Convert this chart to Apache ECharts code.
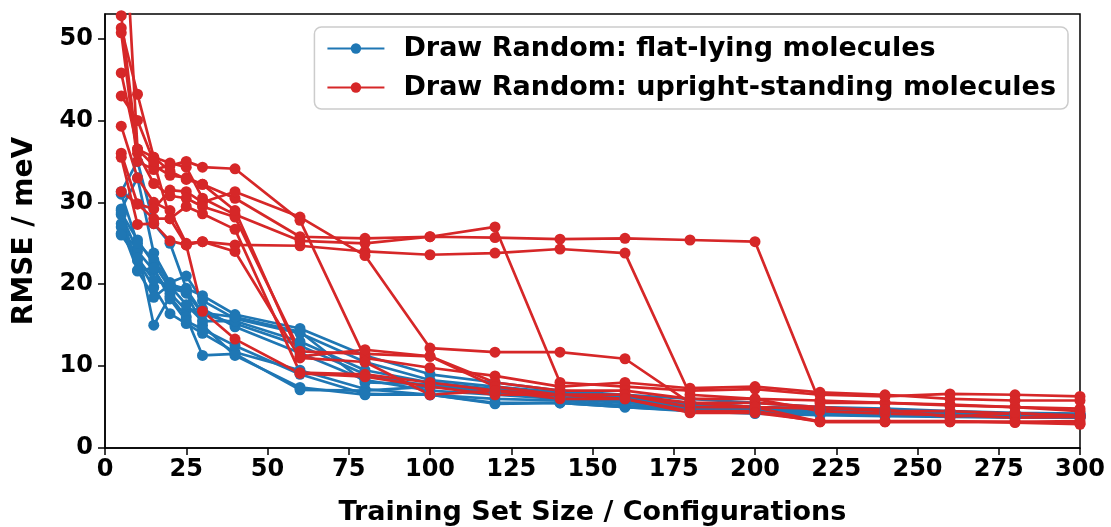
<!DOCTYPE html>
<html>
<head>
<meta charset="utf-8">
<script src="https://cdn.jsdelivr.net/npm/echarts@6/dist/echarts.min.js"></script>
<style>
  html, body { margin: 0; padding: 0; background: #fff; }
  #chart { width: 1111px; height: 527px; }
</style>
</head>
<body>
<div id="chart"></div>
<script>
// training set sizes
const sizes = [5, 10, 15, 20, 25, 30, 40, 60, 80, 100, 120, 140, 160, 180, 200, 220, 240, 260, 280, 300];

// RMSE (meV), flat-lying runs
const flatRuns = [
  [31.3, 35.0, 27.4, 25.0, 19.5, 18.6, 16.3, 14.6, 11.3, 9.0, 8.0, 7.0, 6.5, 6.0, 5.5, 5.0, 4.8, 4.5, 4.3, 4.2],
  [29.2, 33.0, 23.8, 20.2, 21.0, 18.0, 15.8, 14.0, 10.5, 8.3, 7.5, 6.8, 6.2, 5.5, 5.0, 4.8, 4.5, 4.3, 4.2, 4.1],
  [28.7, 25.4, 22.5, 19.5, 19.0, 16.4, 15.2, 12.5, 9.0, 7.5, 7.0, 6.5, 6.0, 5.2, 5.0, 4.5, 4.3, 4.2, 4.0, 3.9],
  [28.5, 24.0, 21.7, 18.9, 16.8, 17.0, 14.8, 11.6, 8.3, 7.0, 6.5, 6.0, 5.5, 5.0, 4.8, 4.3, 4.1, 4.0, 3.9, 3.8],
  [27.4, 22.9, 19.6, 16.4, 15.2, 14.0, 11.7, 9.5, 7.2, 6.5, 5.5, 5.5, 5.0, 4.5, 4.2, 4.0, 3.9, 3.8, 3.7, 3.7],
  [27.0, 21.7, 18.4, 20.0, 18.9, 15.0, 11.3, 7.4, 6.5, 6.5, 6.0, 5.8, 5.2, 4.8, 4.5, 4.2, 4.0, 3.9, 3.8, 3.8],
  [26.2, 24.5, 15.0, 18.5, 16.0, 11.3, 11.5, 7.1, 7.0, 7.5, 6.8, 6.2, 5.5, 5.2, 4.6, 4.5, 4.2, 4.0, 4.0, 3.9],
  [26.0, 23.2, 20.5, 19.8, 17.5, 15.5, 15.5, 13.0, 9.5, 8.0, 7.2, 6.5, 6.0, 5.5, 5.0, 4.8, 4.5, 4.4, 4.1, 4.0],
  [31.0, 25.0, 23.0, 20.0, 19.4, 16.5, 16.0, 14.2, 8.0, 7.8, 6.8, 6.2, 5.8, 5.3, 4.8, 4.6, 4.4, 4.2, 4.1, 4.1],
  [29.0, 21.6, 22.0, 18.2, 15.5, 14.5, 12.5, 9.0, 6.6, 6.5, 5.4, 5.5, 5.0, 4.6, 4.3, 4.2, 4.0, 3.9, 3.8, 3.7]
];

// RMSE (meV), upright-standing runs
const uprightRuns = [
  [45.8, 36.5, 34.5, 33.3, 33.0, 32.2, 30.5, 25.8, 25.6, 25.8, 25.7, 25.5, 25.6, 25.4, 25.2, 5.5, 5.5, 5.2, 5.0, 4.5],
  [39.3, 33.0, 30.0, 29.0, 25.0, 25.2, 24.8, 24.7, 24.0, 23.6, 23.8, 24.3, 23.8, 6.5, 6.0, 5.8, 5.5, 5.3, 5.0, 4.8],
  [51.3, 43.2, 35.5, 34.8, 34.3, 30.5, 28.5, 25.3, 25.0, 25.8, 27.0, 8.0, 7.5, 7.0, 7.2, 6.5, 6.3, 6.6, 6.5, 6.3],
  [36.0, 29.8, 29.2, 31.5, 31.3, 30.0, 31.3, 28.2, 23.5, 12.2, 11.7, 11.7, 10.9, 5.5, 5.5, 5.0, 4.5, 4.5, 4.2, 4.0],
  [50.7, 35.0, 34.0, 34.5, 35.0, 34.3, 34.1, 27.8, 11.0, 9.8, 8.8, 7.5, 8.0, 7.3, 7.5, 6.8, 6.5, 6.0, 5.8, 5.8],
  [52.8, 36.0, 32.3, 30.8, 30.5, 29.5, 28.2, 11.8, 11.5, 11.2, 8.0, 7.0, 7.0, 6.0, 6.0, 4.5, 4.2, 4.0, 3.7, 3.8],
  [72.0, 36.5, 35.5, 33.8, 32.8, 32.2, 29.0, 11.2, 12.0, 11.2, 7.5, 6.5, 6.5, 5.0, 5.0, 3.2, 3.2, 3.2, 3.2, 3.0],
  [43.0, 40.0, 35.0, 28.0, 29.5, 28.6, 26.7, 9.2, 9.0, 8.0, 7.0, 6.5, 6.0, 4.5, 4.5, 3.2, 3.2, 3.2, 3.2, 3.3],
  [35.5, 27.3, 27.4, 25.3, 24.8, 16.7, 13.3, 9.1, 8.7, 7.5, 6.5, 6.5, 6.5, 5.5, 5.0, 4.8, 4.7, 3.8, 4.3, 3.8],
  [31.3, 29.8, 28.0, 28.0, 24.8, 25.2, 24.0, 11.0, 10.5, 6.5, 7.0, 6.0, 6.0, 4.3, 4.3, 3.3, 3.3, 3.3, 3.1, 2.9]
];

const flatName = 'Draw Random: flat-lying molecules';
const uprightName = 'Draw Random: upright-standing molecules';
const blue = '#1f77b4';
const red = '#d62728';
const font = 'DejaVu Sans';

function makeSeries(runs, name, color) {
  return runs.map((run) => ({
    name: name,
    type: 'line',
    data: run.map((v, i) => [sizes[i], v]),
    symbol: 'circle',
    symbolSize: 11,
    showAllSymbol: true,
    lineStyle: { color: color, width: 2.7 },
    itemStyle: { color: color },
    emphasis: { disabled: true },
    clip: true,
  }));
}

const chart = echarts.init(document.getElementById('chart'));

chart.setOption({
  animation: false,
  grid: {
    left: 105,
    right: 31,
    top: 14,
    bottom: 79,
    outerBoundsMode: 'none',
    containLabel: false,
    show: true,
    borderColor: '#000',
    borderWidth: 1.5,
  },
  legend: {
    data: [flatName, uprightName],
    right: 43,
    top: 27,
    orient: 'vertical',
    itemWidth: 57,
    itemHeight: 13,
    itemGap: 12,
    padding: [8, 12, 8, 12],
    borderColor: '#cccccc',
    borderWidth: 1.5,
    borderRadius: 7,
    textStyle: { fontFamily: font, fontWeight: 'bold', fontSize: 27, color: '#000', padding: [0, 0, 0, 14] },
  },
  xAxis: {
    type: 'value',
    min: 0,
    max: 300,
    interval: 25,
    name: 'Training Set Size / Configurations',
    nameLocation: 'middle',
    nameGap: 51,
    nameTextStyle: { fontFamily: font, fontWeight: 'bold', fontSize: 27, color: '#000' },
    axisLine: { onZero: false, lineStyle: { color: '#000', width: 1.5 } },
    axisTick: { length: 7, lineStyle: { color: '#000', width: 1.5 } },
    axisLabel: { fontFamily: font, fontWeight: 'bold', fontSize: 24, color: '#000', margin: 10 },
    splitLine: { show: false },
  },
  yAxis: {
    type: 'value',
    min: 0,
    max: 53,
    interval: 10,
    name: 'RMSE / meV',
    nameLocation: 'middle',
    nameGap: 66,
    nameTextStyle: { fontFamily: font, fontWeight: 'bold', fontSize: 28, color: '#000' },
    axisLine: { onZero: false, lineStyle: { color: '#000', width: 1.5 } },
    axisTick: { length: 7, lineStyle: { color: '#000', width: 1.5 } },
    axisLabel: { fontFamily: font, fontWeight: 'bold', fontSize: 24, color: '#000', margin: 12, showMaxLabel: false },
    splitLine: { show: false },
  },
  series: [
    ...makeSeries(flatRuns, flatName, blue),
    ...makeSeries(uprightRuns, uprightName, red),
  ],
});
</script>
</body>
</html>
